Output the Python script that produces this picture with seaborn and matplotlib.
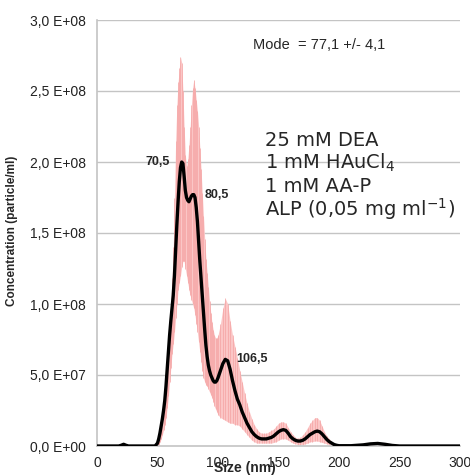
import numpy as np
import pandas as pd
import matplotlib
matplotlib.use("Agg")
import matplotlib.pyplot as plt
import seaborn as sns

# Particle size distribution (NTA), concentrations in units of 1e8 particles/ml
UNIT = 1e8

sizes = ([0, 18, 20, 22, 24, 26, 46, 48]
         + list(range(49, 101))
         + list(range(102, 201, 2))
         + [210, 220, 226, 232, 238, 244, 250, 300])

mean_conc = ([0, 0, 0.005, 0.012, 0.005, 0, 0, 0]
             # 49 .. 100 nm
             + [0.01, 0.02, 0.05, 0.09, 0.14, 0.19, 0.25, 0.32, 0.42, 0.54,
                0.66, 0.78, 0.88, 0.97, 1.06, 1.20, 1.38, 1.56, 1.72, 1.86,
                1.96, 2.00, 1.99, 1.90, 1.80, 1.75, 1.73, 1.72, 1.74, 1.76,
                1.77, 1.77, 1.75, 1.68, 1.58, 1.44, 1.30, 1.18, 1.06, 0.94,
                0.82, 0.71, 0.63, 0.57, 0.53, 0.50, 0.48, 0.46, 0.45, 0.45,
                0.46, 0.48]
             # 102 .. 200 nm
             + [0.53, 0.58, 0.61, 0.60, 0.54, 0.46, 0.39, 0.33, 0.29, 0.24,
                0.20, 0.16, 0.13, 0.10, 0.08, 0.065, 0.055, 0.05, 0.05, 0.05,
                0.055, 0.06, 0.07, 0.085, 0.10, 0.11, 0.115, 0.11, 0.09, 0.065,
                0.05, 0.04, 0.035, 0.035, 0.04, 0.05, 0.065, 0.08, 0.09, 0.10,
                0.105, 0.10, 0.085, 0.065, 0.045, 0.03, 0.02, 0.01, 0.005, 0.002]
             + [0.002, 0.008, 0.015, 0.018, 0.012, 0.004, 0, 0])

upper_conc = ([0, 0, 0.005, 0.012, 0.005, 0, 0, 0]
              + [0.01, 0.03, 0.06, 0.10, 0.15, 0.21, 0.28, 0.36, 0.47, 0.60,
                 0.74, 0.88, 1.02, 1.18, 1.40, 1.75, 2.15, 2.40, 2.56, 2.66,
                 2.74, 2.70, 2.50, 2.25, 2.05, 1.97, 2.02, 2.12, 2.25, 2.40,
                 2.52, 2.58, 2.52, 2.44, 2.36, 2.25, 2.10, 1.95, 1.78, 1.62,
                 1.46, 1.32, 1.22, 1.12, 1.02, 0.94, 0.87, 0.82, 0.78, 0.76,
                 0.76, 0.78]
              + [0.86, 0.97, 1.04, 1.00, 0.88, 0.78, 0.70, 0.62, 0.53, 0.45,
                 0.37, 0.30, 0.24, 0.19, 0.15, 0.12, 0.10, 0.09, 0.09, 0.09,
                 0.10, 0.11, 0.12, 0.14, 0.16, 0.17, 0.17, 0.16, 0.13, 0.10,
                 0.08, 0.06, 0.055, 0.06, 0.08, 0.10, 0.13, 0.16, 0.18, 0.20,
                 0.20, 0.18, 0.14, 0.10, 0.07, 0.05, 0.03, 0.015, 0.008, 0.003]
              + [0.002, 0.012, 0.022, 0.026, 0.018, 0.006, 0, 0])

lower_conc = ([0, 0, 0.005, 0.012, 0.005, 0, 0, 0]
              + [0.0, 0.0, 0.01, 0.03, 0.05, 0.08, 0.11, 0.15, 0.20, 0.27,
                 0.35, 0.45, 0.55, 0.65, 0.72, 0.80, 0.90, 1.00, 1.10, 1.15,
                 1.20, 1.26, 1.30, 1.30, 1.25, 1.20, 1.15, 1.10, 1.06, 1.03,
                 1.00, 0.97, 0.92, 0.86, 0.80, 0.73, 0.66, 0.59, 0.53, 0.48,
                 0.45, 0.43, 0.42, 0.40, 0.38, 0.36, 0.34, 0.31, 0.28, 0.26,
                 0.24, 0.22]
              + [0.20, 0.19, 0.18, 0.17, 0.16, 0.16, 0.15, 0.15, 0.14, 0.12,
                 0.10, 0.08, 0.06, 0.04, 0.03, 0.02, 0.02, 0.02, 0.02, 0.02,
                 0.02, 0.02, 0.025, 0.03, 0.04, 0.05, 0.05, 0.05, 0.04, 0.03,
                 0.02, 0.015, 0.01, 0.01, 0.01, 0.015, 0.02, 0.03, 0.03, 0.035,
                 0.035, 0.03, 0.025, 0.02, 0.015, 0.01, 0.005, 0.003, 0.001, 0.0]
              + [0.002, 0.004, 0.008, 0.010, 0.006, 0.002, 0, 0])

peak_sizes = [70.5, 80.5, 106.5]
peak_heights = [2.00, 1.77, 0.61]
peak_labels = ["70,5", "80,5", "106,5"]

x_ticks = [0, 50, 100, 150, 200, 250, 300]
y_ticks = [0, 0.5, 1.0, 1.5, 2.0, 2.5, 3.0]
y_tick_labels = ["0,0 E+00", "5,0 E+07", "1,0 E+08", "1,5 E+08",
                 "2,0 E+08", "2,5 E+08", "3,0 E+08"]

mode_text = "Mode  = 77,1 +/- 4,1"
conditions = ["25 mM DEA", "1 mM HAuCl$_4$", "1 mM AA-P",
              "ALP (0,05 mg ml$^{-1}$)"]

df = pd.DataFrame({
    "size": sizes,
    "mean": np.array(mean_conc) * UNIT,
    "upper": np.array(upper_conc) * UNIT,
    "lower": np.array(lower_conc) * UNIT,
})

sns.set_style("white")
plt.rcParams["font.family"] = ["Liberation Sans", "DejaVu Sans"]
plt.rcParams["mathtext.fontset"] = "dejavusans"

fig = plt.figure(figsize=(4.70, 4.76), dpi=100)
ax = fig.add_axes([97 / 470, 30 / 476, 363 / 470, 426 / 476])

grid_c = "#c4c4c4"
for yt in y_ticks[1:]:
    ax.axhline(yt * UNIT, color=grid_c, lw=1.0, zorder=0)

# error band: light fill plus one thin bar per size bin
band = df[df["upper"] > df["lower"]]
ax.fill_between(band["size"], band["lower"], band["upper"],
                color="#fbc6c6", lw=0, zorder=1)
ax.vlines(band["size"], band["lower"], band["upper"],
          color="#f4a3a3", lw=0.5, zorder=2)

sns.lineplot(data=df, x="size", y="mean", color="black", lw=2.4,
             ax=ax, zorder=3)

for px, ph, lab in zip(peak_sizes, peak_heights, peak_labels):
    if lab == peak_labels[0]:
        ax.text(px - 10.5, ph * UNIT, lab, ha="right", va="center",
                fontsize=9, fontweight="bold")
    else:
        ax.text(px + 8.5, ph * UNIT, lab, ha="left", va="center",
                fontsize=9, fontweight="bold")

fig.text(253 / 470, 1 - 45 / 476, mode_text, fontsize=10.5, va="center",
         ha="left")
for i, line in enumerate(conditions):
    fig.text(265 / 470, 1 - (140 + 23 * i) / 476, line, fontsize=14,
             va="center", ha="left", family="DejaVu Sans")

ax.set_xlim(0, 300)
ax.set_ylim(0, 3.0 * UNIT)
ax.set_xticks(x_ticks)
ax.set_xticklabels([str(t) for t in x_ticks])
ax.set_yticks([t * UNIT for t in y_ticks])
ax.set_yticklabels(y_tick_labels)
ax.tick_params(axis="both", labelsize=10, colors="#222222",
               length=4, width=1, direction="out", pad=3)
ax.tick_params(axis="x", color=grid_c)
ax.tick_params(axis="y", color=grid_c, pad=4)

for side in ["top", "right"]:
    ax.spines[side].set_visible(False)
for side in ["left", "bottom"]:
    ax.spines[side].set_color(grid_c)
    ax.spines[side].set_linewidth(1.2)

ax.set_xlabel("Size (nm)", fontsize=10, fontweight="bold", va="center")
ax.xaxis.set_label_coords((245 - 97) / 363, -22 / 426)
ax.set_ylabel("Concentration (particle/ml)", fontsize=8.5, fontweight="bold")
ax.yaxis.set_label_coords((18 - 97) / 363, (446 - 231) / 426)

fig.savefig("out.png", dpi=100)
